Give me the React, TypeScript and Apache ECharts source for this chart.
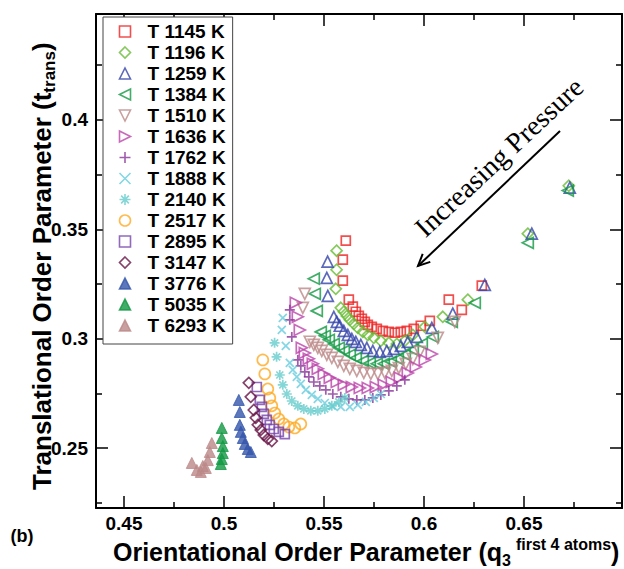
import React, { useEffect, useRef } from "react";
import * as echarts from "echarts";

const X_MIN = 0.436;
const X_MAX = 0.699;
const Y_MIN = 0.2226;
const Y_MAX = 0.4484;
const X_MAJOR = [0.45, 0.5, 0.55, 0.6, 0.65];
const X_MINOR = [0.475, 0.525, 0.575, 0.625, 0.675];
const Y_MAJOR = [0.25, 0.3, 0.35, 0.4];
const Y_MINOR = [0.225, 0.275, 0.325, 0.375, 0.425];

const T1145 = [[0.5609,0.3448],[0.5594,0.3361],[0.5594,0.3265],[0.5624,0.3178],[0.5644,0.3146],[0.5659,0.3123],[0.5674,0.3104],[0.5689,0.3091],[0.5704,0.3077],[0.5719,0.3063],[0.5739,0.3054],[0.5764,0.3045],[0.5794,0.3036],[0.5824,0.3031],[0.5854,0.3027],[0.5884,0.3031],[0.5914,0.3036],[0.5949,0.3045],[0.5984,0.3059],[0.6029,0.3081],[0.6124,0.3178],[0.6189,0.3132],[0.6289,0.3242]];
const T1196 = [[0.5563,0.3402],[0.5563,0.3315],[0.5559,0.3228],[0.5584,0.3141],[0.5599,0.3123],[0.5614,0.3104],[0.5629,0.3086],[0.5649,0.3068],[0.5669,0.305],[0.5694,0.3031],[0.5719,0.3017],[0.5749,0.3004],[0.5784,0.299],[0.5824,0.2981],[0.5864,0.2976],[0.5904,0.299],[0.5944,0.3017],[0.6004,0.3054],[0.6094,0.31],[0.6219,0.3178],[0.6519,0.348],[0.6724,0.3699]];
const T1259 = [[0.5518,0.3352],[0.5514,0.3278],[0.5519,0.3196],[0.5549,0.31],[0.5564,0.3077],[0.5579,0.3059],[0.5599,0.3036],[0.5619,0.3017],[0.5639,0.2999],[0.5659,0.2985],[0.5684,0.2972],[0.5714,0.2958],[0.5744,0.2944],[0.5779,0.294],[0.5814,0.2944],[0.5849,0.2953],[0.5884,0.2967],[0.5919,0.2985],[0.5964,0.3008],[0.6039,0.3049],[0.6144,0.3114],[0.6304,0.3246],[0.6539,0.348],[0.6729,0.369]];
const T1384 = [[0.5449,0.3274],[0.5454,0.3205],[0.5464,0.3127],[0.5484,0.3031],[0.5504,0.3013],[0.5524,0.2995],[0.5549,0.2976],[0.5574,0.2958],[0.5599,0.2944],[0.5629,0.2926],[0.5659,0.2912],[0.5694,0.2898],[0.5729,0.2889],[0.5764,0.2885],[0.5799,0.2885],[0.5834,0.2894],[0.5869,0.2907],[0.5904,0.2926],[0.5944,0.2949],[0.5989,0.2976],[0.6044,0.3008],[0.6139,0.3077],[0.6254,0.3164],[0.6519,0.3438],[0.6719,0.3677]];
const T1510 = [[0.5404,0.3205],[0.5394,0.3141],[0.5429,0.2986],[0.5449,0.2972],[0.5469,0.2958],[0.5489,0.2944],[0.5514,0.2926],[0.5539,0.2912],[0.5569,0.2894],[0.5599,0.2876],[0.5629,0.2862],[0.5664,0.2853],[0.5699,0.2844],[0.5734,0.2839],[0.5769,0.2839],[0.5804,0.2844],[0.5839,0.2853],[0.5874,0.2866],[0.5909,0.2885],[0.5944,0.2907],[0.5979,0.294],[0.6069,0.3004],[0.6154,0.3077]];
const T1636 = [[0.5359,0.3164],[0.5369,0.31],[0.5379,0.304],[0.5389,0.2958],[0.5404,0.2935],[0.5424,0.2908],[0.5444,0.2885],[0.5469,0.2862],[0.5499,0.2839],[0.5529,0.2821],[0.5564,0.2802],[0.5599,0.2789],[0.5639,0.2779],[0.5679,0.2775],[0.5719,0.2775],[0.5759,0.2779],[0.5799,0.2789],[0.5839,0.2802],[0.5879,0.2821],[0.5919,0.2843],[0.5959,0.2871],[0.6004,0.2903],[0.6039,0.293]];
const T1762 = [[0.5329,0.3132],[0.5329,0.3086],[0.5339,0.3008],[0.5369,0.2903],[0.5384,0.2876],[0.5404,0.2848],[0.5424,0.2825],[0.5449,0.2802],[0.5479,0.2784],[0.5509,0.2766],[0.5544,0.2747],[0.5584,0.2734],[0.5624,0.2725],[0.5664,0.272],[0.5704,0.272],[0.5744,0.2729],[0.5784,0.2743],[0.5824,0.2761],[0.5864,0.2784],[0.5904,0.2812]];
const T1888 = [[0.5294,0.3095],[0.5289,0.304],[0.5309,0.2967],[0.5329,0.2889],[0.5344,0.2857],[0.5364,0.2825],[0.5384,0.2793],[0.5409,0.2766],[0.5439,0.2743],[0.5469,0.2725],[0.5504,0.2706],[0.5544,0.2692],[0.5584,0.2688],[0.5629,0.2688],[0.5669,0.2697],[0.5709,0.2711],[0.5749,0.2729],[0.5784,0.2747]];
const T2140 = [[0.5253,0.2981],[0.5263,0.2917],[0.5279,0.2834],[0.5294,0.2789],[0.5314,0.2747],[0.5339,0.2715],[0.5369,0.2693],[0.5399,0.2679],[0.5434,0.267],[0.5469,0.267],[0.5504,0.2679],[0.5539,0.2693],[0.5574,0.2711],[0.5604,0.2729]];
const T2517 = [[0.5194,0.2903],[0.5204,0.2839],[0.5219,0.277],[0.5229,0.2729],[0.5239,0.2693],[0.5254,0.266],[0.5274,0.2633],[0.5299,0.261],[0.5324,0.2596],[0.5354,0.2592],[0.5384,0.261]];
const T2895 = [[0.5164,0.2779],[0.5179,0.272],[0.5189,0.2688],[0.5199,0.2656],[0.5214,0.2629],[0.5229,0.2606],[0.5249,0.2587],[0.5274,0.2574],[0.5304,0.2564]];
const T3147 = [[0.5124,0.2798],[0.5134,0.2734],[0.5149,0.2674],[0.5159,0.2638],[0.5169,0.2606],[0.5184,0.2583],[0.5199,0.256],[0.5219,0.2542],[0.5239,0.2532]];
const T3776 = [[0.5074,0.272],[0.5079,0.2665],[0.5079,0.2606],[0.5084,0.2574],[0.5094,0.2546],[0.5104,0.2519],[0.5119,0.2496],[0.5134,0.2482]];
const T5035 = [[0.4989,0.2592],[0.4989,0.2546],[0.4994,0.2509],[0.4994,0.2477],[0.4989,0.245],[0.4984,0.2427]];
const T6293 = [[0.4939,0.2523],[0.4929,0.2482],[0.4919,0.2445],[0.4894,0.2418],[0.4864,0.24],[0.4839,0.2432],[0.4884,0.2391],[0.4909,0.2409]];

const NAMES = ["T 1145 K","T 1196 K","T 1259 K","T 1384 K","T 1510 K","T 1636 K","T 1762 K","T 1888 K","T 2140 K","T 2517 K","T 2895 K","T 3147 K","T 3776 K","T 5035 K","T 6293 K"];
const DATA = [T1145,T1196,T1259,T1384,T1510,T1636,T1762,T1888,T2140,T2517,T2895,T3147,T3776,T5035,T6293];
const COLORS = ["#ee2222","#66bb33","#3344aa","#119944","#bb8888","#bb44aa","#883399","#66ccdd","#66cccc","#ffaa22","#7744aa","#661144","#3355aa","#119944","#bb8888"];

const PLUS = "path://M5 0L5 10M0 5L10 5";
const CROSS = "path://M0 0L10 10M0 10L10 0";
const STAR = "path://M5 0L5 10M0 5L10 5M1.5 1.5L8.5 8.5M1.5 8.5L8.5 1.5";
const TRI_UP = "path://M5 0L10 10L0 10Z";
const TRI_LEFT = "path://M0 5L10 0L10 10Z";
const TRI_DOWN = "path://M0 0L10 0L5 10Z";
const TRI_RIGHT = "path://M0 0L10 5L0 10Z";
// [symbol, filled, size]
const MARKS: [string, boolean, number][] = [
  ["rect", false, 9],
  ["diamond", false, 11],
  [TRI_UP, false, 11],
  [TRI_LEFT, false, 11],
  [TRI_DOWN, false, 11],
  [TRI_RIGHT, false, 11],
  [PLUS, false, 10],
  [CROSS, false, 8],
  [STAR, false, 10],
  ["circle", false, 11],
  ["rect", false, 9],
  ["diamond", false, 11],
  [TRI_UP, true, 11],
  [TRI_UP, true, 11],
  [TRI_UP, true, 11],
];

const SANS = "'Liberation Sans', Arial, Helvetica, sans-serif";

function axis(kind: "x" | "y", position: string, values: number[], len: number, labels: boolean, line: boolean) {
  return {
    type: "value",
    position,
    min: kind === "x" ? X_MIN : Y_MIN,
    max: kind === "x" ? X_MAX : Y_MAX,
    axisLine: { show: line, onZero: false, lineStyle: { color: "#000", width: 2 } },
    axisTick: { show: true, inside: true, length: len, customValues: values, lineStyle: { color: "#000", width: 1.5 } },
    axisLabel: {
      show: labels,
      customValues: values,
      margin: kind === "x" ? 6 : 8,
      color: "#000",
      fontSize: 19,
      fontWeight: "bold",
      fontFamily: SANS,
      formatter: (v: number) => String(+v.toFixed(3)),
    },
    splitLine: { show: false },
  };
}

export default function App() {
  const ref = useRef<HTMLDivElement>(null);
  useEffect(() => {
    const chart = echarts.init(ref.current!, null, { renderer: "svg" });
    const series = DATA.map((d, i) => {
      const [sym, filled, size] = MARKS[i];
      return {
        type: "scatter",
        name: NAMES[i],
        data: d,
        xAxisIndex: 0,
        yAxisIndex: 0,
        symbol: sym,
        symbolSize: size,
        itemStyle: filled
          ? { color: COLORS[i], borderColor: COLORS[i], borderWidth: 1 }
          : { color: "none", borderColor: COLORS[i], borderWidth: 1.7 },
        emphasis: { disabled: true },
      };
    });
    chart.setOption({
      animation: false,
      backgroundColor: "#fff",
      grid: { left: 96, right: 2, top: 14, bottom: 61, containLabel: false },
      xAxis: [
        axis("x", "bottom", X_MAJOR, 12, true, true),
        axis("x", "bottom", X_MINOR, 6, false, false),
        axis("x", "top", X_MAJOR, 12, false, true),
        axis("x", "top", X_MINOR, 6, false, false),
      ],
      yAxis: [
        axis("y", "left", Y_MAJOR, 12, true, true),
        axis("y", "left", Y_MINOR, 6, false, false),
        axis("y", "right", Y_MAJOR, 12, false, true),
        axis("y", "right", Y_MINOR, 6, false, false),
      ],
      legend: {
        orient: "vertical",
        left: 103,
        top: 17,
        padding: [5, 7, 9, 14],
        itemWidth: 11,
        itemHeight: 11,
        itemGap: 2,
        borderColor: "#444",
        borderWidth: 1,
        backgroundColor: "#fff",
        selectedMode: false,
        itemStyle: { borderWidth: 1.6 },
        textStyle: { fontSize: 19, fontWeight: "bold", color: "#000", fontFamily: SANS, padding: [0, 0, 0, 12] },
        data: NAMES,
      },
      graphic: [
        {
          type: "line",
          shape: { x1: 560, y1: 131, x2: 418, y2: 266 },
          style: { stroke: "#000", lineWidth: 2 },
        },
        {
          type: "polyline",
          shape: { points: [[430.3, 261.9], [418, 266], [422.7, 253.9]] },
          style: { stroke: "#000", lineWidth: 2, fill: "none" },
        },
        {
          type: "text",
          x: 499,
          y: 157,
          rotation: 0.75,
          style: {
            text: "Increasing Pressure",
            fontFamily: "'Liberation Serif', 'Times New Roman', serif",
            fontSize: 28,
            fill: "#000",
            align: "center",
            verticalAlign: "middle",
          },
        },
        {
          type: "text",
          x: 113,
          y: 552,
          style: {
            text: "{m|Orientational Order Parameter (q}{s|3}{p|first 4 atoms}{m|)}",
            align: "left",
            verticalAlign: "middle",
            rich: {
              m: { fontSize: 25, fontWeight: "bold", fontFamily: SANS, fill: "#000", lineHeight: 32 },
              s: { fontSize: 16, fontWeight: "bold", fontFamily: SANS, fill: "#000", lineHeight: 16, verticalAlign: "bottom" },
              p: { fontSize: 16, fontWeight: "bold", fontFamily: SANS, fill: "#000", lineHeight: 16, verticalAlign: "top", padding: [0, 0, 0, 5] },
            },
          },
        },
        {
          type: "text",
          x: 42,
          y: 490,
          rotation: Math.PI / 2,
          style: {
            text: "{m|Translational Order Parameter (t}{s|trans}{m|)}",
            align: "left",
            verticalAlign: "middle",
            rich: {
              m: { fontSize: 26, fontWeight: "bold", fontFamily: SANS, fill: "#000", lineHeight: 32 },
              s: { fontSize: 17, fontWeight: "bold", fontFamily: SANS, fill: "#000", lineHeight: 17, verticalAlign: "bottom" },
            },
          },
        },
        {
          type: "text",
          x: 22,
          y: 536,
          style: {
            text: "(b)",
            fontSize: 18,
            fontWeight: "bold",
            fontFamily: SANS,
            fill: "#000",
            align: "center",
            verticalAlign: "middle",
          },
        },
      ],
      series,
    });
    return () => chart.dispose();
  }, []);
  return <div ref={ref} style={{ position: "fixed", left: 0, top: 0, width: 624, height: 569 }} />;
}
